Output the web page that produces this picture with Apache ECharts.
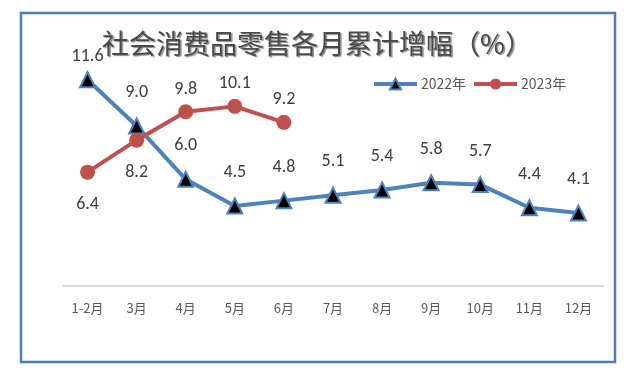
<!DOCTYPE html>
<html>
<head>
<meta charset="utf-8">
<script src="https://cdn.jsdelivr.net/npm/echarts@6/dist/echarts.min.js"></script>
<style>html,body{margin:0;padding:0;background:#fff;}#c{width:634px;height:382px;}</style>
</head>
<body>
<div id="c"></div>
<script>
const categories = ['1-2月','3月','4月','5月','6月','7月','8月','9月','10月','11月','12月'];
const values2022 = [11.6, 9.0, 6.0, 4.5, 4.8, 5.1, 5.4, 5.8, 5.7, 4.4, 4.1];
const values2023 = [6.4, 8.2, 9.8, 10.1, 9.2];
const seriesNames = ['2022年', '2023年'];

const chart = echarts.init(document.getElementById('c'), null, {renderer: 'canvas'});
const labelFont = 'Calibri, Carlito, "Liberation Sans", "Noto Sans", sans-serif';

const data2023 = values2023.map((v, i) => (i < 2 ? {value: v, label: {position: 'bottom', distance: 16}} : v));
const data2022 = values2022.map((v, i) => (i === 0 ? {value: v, label: {distance: 6}} : v));

chart.setOption({
  animation: false,
  graphic: [{
    type: 'rect',
    shape: {x: 21, y: 13, width: 594, height: 349},
    style: {fill: 'none', stroke: '#4F7DB5', lineWidth: 2.5},
    silent: true
  }],
  title: {
    text: '社会消费品零售各月累计增幅（%）',
    left: 'center',
    top: 25,
    textStyle: {
      fontFamily: '"Noto Sans CJK SC", sans-serif',
      fontSize: 27,
      fontWeight: 'normal',
      color: '#4a4a4a',
      textShadowColor: 'rgba(0,0,0,0.45)',
      textShadowBlur: 1,
      textShadowOffsetX: 1.5,
      textShadowOffsetY: 1.5
    }
  },
  legend: {
    data: seriesNames,
    left: 367,
    top: 72,
    itemWidth: 43,
    itemHeight: 14,
    itemGap: 6,
    lineStyle: {width: 4},
    textStyle: {fontFamily: '"Noto Sans CJK SC", sans-serif', fontSize: 14, color: '#595959', padding: [0, 0, 0, -1]}
  },
  grid: {left: 63, right: 31, top: 37, bottom: 96},
  xAxis: {
    type: 'category',
    data: categories,
    boundaryGap: true,
    axisLine: {lineStyle: {color: '#D9D9D9', width: 2}},
    axisTick: {show: false},
    axisLabel: {color: '#595959', fontSize: 13, margin: 16, fontFamily: '"Noto Sans CJK SC", sans-serif'}
  },
  yAxis: {
    type: 'value',
    min: 0,
    max: 14,
    interval: 2,
    show: false,
    splitLine: {show: false}
  },
  series: [
    {
      name: seriesNames[0],
      type: 'line',
      data: data2022,
      color: '#4F81BD',
      lineStyle: {width: 4, color: '#4F81BD'},
      symbol: 'triangle',
      symbolSize: 15,
      itemStyle: {color: '#000000', borderColor: '#4F81BD', borderWidth: 2},
      label: {
        show: true,
        position: 'top',
        distance: 16,
        fontSize: 18,
        color: '#404040',
        fontFamily: labelFont,
        formatter: p => p.value.toFixed(1)
      },
      z: 2
    },
    {
      name: seriesNames[1],
      type: 'line',
      data: data2023,
      color: '#C0504D',
      lineStyle: {width: 4, color: '#C0504D'},
      symbol: 'circle',
      symbolSize: 15,
      itemStyle: {color: '#C0504D', borderColor: '#C0504D', borderWidth: 0},
      label: {
        show: true,
        position: 'top',
        distance: 6,
        fontSize: 18,
        color: '#404040',
        fontFamily: labelFont,
        formatter: p => p.value.toFixed(1)
      },
      z: 3
    }
  ]
});
</script>
</body>
</html>
